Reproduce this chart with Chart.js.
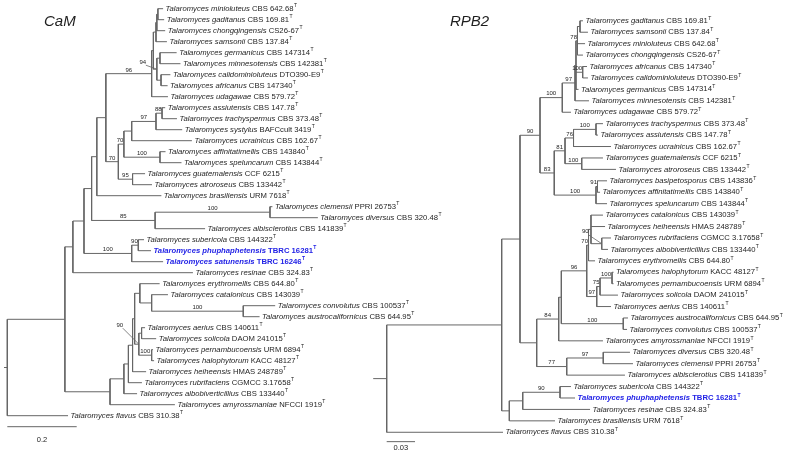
<!DOCTYPE html>
<html>
<head>
<meta charset="utf-8">
<script src="https://cdn.jsdelivr.net/npm/chart.js@4.4.1/dist/chart.umd.min.js"></script>
<style>
  html, body { margin: 0; padding: 0; background: #fff; }
  #trees { display: block; }
</style>
</head>
<body>
<canvas id="trees" width="796" height="454"></canvas>
<script>
// ── CaM : taxons (ordre des feuilles), souches, profondeur des feuilles ──
const camTaxa = [
    'minioluteus', 'gaditanus', 'chongqingensis', 'samsonii', 'germanicus',
    'minnesotensis', 'calidominioluteus', 'africanus', 'udagawae', 'assiutensis',
    'trachyspermus', 'systylus', 'ucrainicus', 'affinitatimellis', 'speluncarum',
    'guatemalensis', 'atroroseus', 'brasiliensis', 'clemensii', 'diversus',
    'albisclerotius', 'subericola', 'phuphaphetensis', 'satunensis', 'resinae',
    'erythromellis', 'catalonicus', 'convolutus', 'austrocalifornicus', 'aerius',
    'solicola', 'pernambucoensis', 'halophytorum', 'heiheensis', 'rubrifaciens',
    'albobiverticillius', 'amyrossmaniae', 'flavus',
];
const camStrains = [
    'CBS 642.68', 'CBS 169.81', 'CS26-67', 'CBS 137.84', 'CBS 147314',
    'CBS 142381', 'DTO390-E9', 'CBS 147340', 'CBS 579.72', 'CBS 147.78',
    'CBS 373.48', 'BAFCcult 3419', 'CBS 162.67', 'CBS 143840', 'CBS 143844',
    'CCF 6215', 'CBS 133442', 'URM 7618', 'PPRI 26753', 'CBS 320.48',
    'CBS 141839', 'CBS 144322', 'TBRC 16281', 'TBRC 16246', 'CBS 324.83',
    'CBS 644.80', 'CBS 143039', 'CBS 100537', 'CBS 644.95', 'CBS 140611',
    'DAOM 241015', 'URM 6894', 'KACC 48127', 'HMAS 248789', 'CGMCC 3.17658',
    'CBS 133440', 'NFCCI 1919', 'CBS 310.38',
];
const camTipDepth = [
    0.449, 0.452, 0.455, 0.460, 0.488, 0.499, 0.470, 0.462, 0.463, 0.455,
    0.489, 0.504, 0.532, 0.456, 0.502, 0.397, 0.417, 0.444, 0.764, 0.895,
    0.570, 0.394, 0.414, 0.449, 0.535, 0.439, 0.463, 0.772, 0.727, 0.397,
    0.429, 0.420, 0.423, 0.400, 0.388, 0.374, 0.483, 0.175,
];
// [id, profondeur, bootstrap, enfants]
const camClades = [
    ['root', 0,     '',    ['a65', 'flavus']],
    ['a65',  0.166, '',    ['a72', 'l110']],
    ['a72',  0.189, '',    ['a84', 'resinae']],
    ['a84',  0.221, '',    ['a91', 's100']],
    ['a91',  0.243, '',    ['a96', 'c85']],
    ['a96',  0.258, '',    ['a106', 'brasiliensis']],
    ['a106', 0.284, '',    ['b151', 'n118']],
    ['b151', 0.416, '96',  ['b154', 'udagawae']],
    ['b154', 0.421, '',    ['m156', 'e157']],
    ['m156', 0.4285, '',   ['m157', 'samsonii']],
    ['m157', 0.431, '',    ['m158', 'chongqingensis']],
    ['m158', 0.434, '',    ['minioluteus', 'gaditanus']],
    ['e157', 0.431, '94',  ['gm160', 'ca161']],
    ['gm160', 0.440, '',   ['germanicus', 'minnesotensis']],
    ['ca161', 0.443, '',   ['calidominioluteus', 'africanus']],
    ['n118', 0.320, '70',  ['n124', 'g95']],
    ['n124', 0.336, '70',  ['n131', 'f100']],
    ['n131', 0.3585, '',   ['h97', 'ucrainicus']],
    ['h97',  0.4285, '97', ['h88', 'systylus']],
    ['h88',  0.446, '88',  ['assiutensis', 'trachyspermus']],
    ['f100', 0.440, '100', ['affinitatimellis', 'speluncarum']],
    ['g95',  0.361, '95',  ['guatemalensis', 'atroroseus']],
    ['c85',  0.426, '85',  ['c100', 'albisclerotius']],
    ['c100', 0.757, '100', ['clemensii', 'diversus']],
    ['s100', 0.3585, '100', ['s90', 'satunensis']],
    ['s90',  0.3775, '90', ['subericola', 'phuphaphetensis']],
    ['l110', 0.296, '',    ['x124', 'amyrossmaniae']],
    ['x124', 0.336, '',    ['y128', 'albobiverticillius']],
    ['y128', 0.349, '',    ['z132', 'rubrifaciens']],
    ['z132', 0.361, '',    ['w134', 'heiheensis']],
    ['w134', 0.367, '',    ['u140', 'v90']],
    ['u140', 0.382, '',    ['erythromellis', 'cc151']],
    ['cc151', 0.416, '',   ['catalonicus', 'cv100']],
    ['cv100', 0.680, '100', ['convolutus', 'austrocalifornicus']],
    ['v90',  0.379, '90',  ['as141', 'ph151']],
    ['as141', 0.387, '',   ['aerius', 'solicola']],
    ['ph151', 0.416, '100', ['pernambucoensis', 'halophytorum']],
];

// ── RPB2 ──────────────────────────────────────────────────────────────
const rpbTaxa = [
    'gaditanus', 'samsonii', 'minioluteus', 'chongqingensis', 'africanus',
    'calidominioluteus', 'germanicus', 'minnesotensis', 'udagawae', 'trachyspermus',
    'assiutensis', 'ucrainicus', 'guatemalensis', 'atroroseus', 'basipetosporus',
    'affinitatimellis', 'speluncarum', 'catalonicus', 'heiheensis', 'rubrifaciens',
    'albobiverticillius', 'erythromellis', 'halophytorum', 'pernambucoensis', 'solicola',
    'aerius', 'austrocalifornicus', 'convolutus', 'amyrossmaniae', 'diversus',
    'clemensii', 'albisclerotius', 'subericola', 'phuphaphetensis', 'resinae',
    'brasiliensis', 'flavus',
];
const rpbStrains = [
    'CBS 169.81', 'CBS 137.84', 'CBS 642.68', 'CS26-67', 'CBS 147340',
    'DTO390-E9', 'CBS 147314', 'CBS 142381', 'CBS 579.72', 'CBS 373.48',
    'CBS 147.78', 'CBS 162.67', 'CCF 6215', 'CBS 133442', 'CBS 143836',
    'CBS 143840', 'CBS 143844', 'CBS 143039', 'HMAS 248789', 'CGMCC 3.17658',
    'CBS 133440', 'CBS 644.80', 'KACC 48127', 'URM 6894', 'DAOM 241015',
    'CBS 140611', 'CBS 644.95', 'CBS 100537', 'NFCCI 1919', 'CBS 320.48',
    'PPRI 26753', 'CBS 141839', 'CBS 144322', 'TBRC 16281', 'CBS 324.83',
    'URM 7618', 'CBS 310.38',
];
const rpbTipDepth = [
    0.2079, 0.2132, 0.2101, 0.2079, 0.2122, 0.2132, 0.2032, 0.2143, 0.1952, 0.2291,
    0.2238, 0.2376, 0.2291, 0.2429, 0.2334, 0.2260, 0.2334, 0.2291, 0.2313, 0.2376,
    0.2344, 0.2207, 0.2403, 0.2403, 0.2450, 0.2376, 0.2556, 0.2546, 0.2291, 0.2577,
    0.2609, 0.2524, 0.1952, 0.1995, 0.2154, 0.1783, 0.1232,
];
const rpbClades = [
    ['root',  0,      '',    ['i501', 'flavus']],
    ['i501',  0.1218, '',    ['n520', 'q509']],
    ['q509',  0.1299, '',    ['r522', 'brasiliensis']],
    ['r522',  0.1441, '',    ['s560', 'resinae']],
    ['s560',  0.1836, '90',  ['subericola', 'phuphaphetensis']],
    ['n520',  0.1412, '',    ['p540', 'o536']],
    ['p540',  0.1624, '90',  ['t562', 'n554']],
    ['t562',  0.1860, '100', ['u575', 'udagawae']],
    ['u575',  0.1995, '97',  ['u576', 'minnesotensis']],
    ['u576',  0.2005, '',    ['m577', 'ca582', 'germanicus']],
    ['m577',  0.2021, '78',  ['gs580', 'minioluteus', 'chongqingensis']],
    ['gs580', 0.2048, '',    ['gaditanus', 'samsonii']],
    ['ca582', 0.2076, '100', ['africanus', 'calidominioluteus']],
    ['n554',  0.1775, '83',  ['n565', 'bas596']],
    ['n565',  0.1889, '81',  ['n574', 'ga582']],
    ['n574',  0.1979, '76',  ['ta596', 'ucrainicus']],
    ['ta596', 0.2217, '100', ['trachyspermus', 'assiutensis']],
    ['ga582', 0.2066, '100', ['guatemalensis', 'atroroseus']],
    ['bas596', 0.2217, '100', ['ba597', 'speluncarum']],
    ['ba597', 0.2233, '91',  ['basipetosporus', 'affinitatimellis']],
    ['o536',  0.1589, '',    ['n84', 'n566']],
    ['n84',   0.1822, '84',  ['n561', 'amyrossmaniae']],
    ['n561',  0.1850, '',    ['n96', 'cv623']],
    ['n96',   0.2119, '96',  ['k588', 'n97']],
    ['k588',  0.2138, '70',  ['k591', 'erythromellis']],
    ['k591',  0.2164, '',    ['catalonicus', 'heiheensis', 'k601']],
    ['k601',  0.2278, '90',  ['rubrifaciens', 'albobiverticillius']],
    ['n97',   0.2225, '97',  ['n75', 'aerius']],
    ['n75',   0.2260, '75',  ['ph612', 'solicola']],
    ['ph612', 0.2387, '100', ['halophytorum', 'pernambucoensis']],
    ['cv623', 0.2506, '100', ['austrocalifornicus', 'convolutus']],
    ['n566',  0.1907, '77',  ['dc603', 'albisclerotius']],
    ['dc603', 0.2294, '97',  ['diversus', 'clemensii']],
];

const newSpecies = ['phuphaphetensis', 'satunensis'];
const camScaleBar = 0.2;
const rpbScaleBar = 0.03;

// ── Mise en page (pixels) ─────────────────────────────────────────────
const W = 796, H = 454;
const FAMILY = '"Liberation Sans", Arial, sans-serif';
const LINE   = '#666666';
const TEXT   = '#1e1e1e';
const BLUE   = '#2323e6';

const camFrame = { rootPx: 7.3,   pxPerUnit: 347, topPx: 8.7,  rowPx: 11.0,  stub: 3.3,  barRow: 1.0,  barGap: 13, title: 'CaM',  titleX: 44 };
const rpbFrame = { rootPx: 386.7, pxPerUnit: 944, topPx: 20.8, rowPx: 11.43, stub: 13.5, barRow: 0.82, barGap: 6,  title: 'RPB2', titleX: 450 };

// étiquettes déportées avec trait de rappel : dx, dy depuis le nœud
const camLeaders = { e157: [-14, -7], v90: [-19, -19] };
const rpbLeaders = { k601: [-16.5, -12] };

/** Construit nœuds + segments (coupés par y:null) à partir des tableaux */
function buildTree(taxa, depths, clades) {
    const nodes = {};
    taxa.forEach((t, i) => { nodes[t] = { depth: depths[i], y: i, tip: true }; });
    clades.forEach(([id, depth, support, kids]) => { nodes[id] = { id, depth, support, kids }; });

    const place = id => {
        const n = nodes[id];
        if (n.tip) return n.y;
        const ys = n.kids.map(place);
        n.y0 = Math.min(...ys);
        n.y1 = Math.max(...ys);
        n.y = (n.y0 + n.y1) / 2;
        return n.y;
    };
    place('root');

    const segs = [];
    const walk = id => {
        const n = nodes[id];
        if (n.tip) return;
        segs.push({ x: n.depth, y: n.y0 }, { x: n.depth, y: n.y1 }, { x: n.depth, y: null });
        n.kids.forEach(k => {
            const c = nodes[k];
            c.parentDepth = n.depth;
            segs.push({ x: n.depth, y: c.y }, { x: c.depth, y: c.y }, { x: c.depth, y: null });
            walk(k);
        });
    };
    walk('root');
    return { nodes, segs };
}

function scaleRange(f) {
    return {
        x: { min: -f.rootPx / f.pxPerUnit, max: (W - f.rootPx) / f.pxPerUnit },
        y: { min: -f.topPx / f.rowPx, max: (H - f.topPx) / f.rowPx },
    };
}

const cam = buildTree(camTaxa, camTipDepth, camClades);
const rpb = buildTree(rpbTaxa, rpbTipDepth, rpbClades);

const camRange = scaleRange(camFrame);
const rpbRange = scaleRange(rpbFrame);

/** Amorce de racine + barre d'échelle */
function extras(tree, taxa, f, bar) {
    const root = tree.nodes.root;
    const barY = taxa.length - 1 + f.barRow;
    return [
        { x: -f.stub / f.pxPerUnit, y: root.y }, { x: 0, y: root.y }, { x: 0, y: null },
        { x: 0, y: barY }, { x: bar, y: barY },
    ];
}

const lineStyle = {
    showLine: true, borderColor: LINE, borderWidth: 1, pointRadius: 0,
    spanGaps: false, fill: false,
};

// ── Textes : feuilles, bootstraps, titres, barres d'échelle ──────────
function drawTexts(ctx, xs, ys, tree, taxa, strains, clades, leaders, f, bar) {
    ctx.save();
    ctx.textBaseline = 'middle';
    taxa.forEach((t, i) => {
        const isNew = newSpecies.includes(t);
        const b = isNew ? 'bold ' : '';
        let x = xs.getPixelForValue(tree.nodes[t].depth) + 2.5;
        const y = ys.getPixelForValue(i);
        ctx.fillStyle = isNew ? BLUE : TEXT;
        ctx.textAlign = 'left';
        ctx.font = `italic ${b}7.7px ${FAMILY}`;
        const name = 'Talaromyces ' + t + ' ';
        ctx.fillText(name, x, y);
        x += ctx.measureText(name).width;
        ctx.font = `${b}7.7px ${FAMILY}`;
        ctx.fillText(strains[i], x, y);
        x += ctx.measureText(strains[i]).width + 0.4;
        ctx.font = `${b}5px ${FAMILY}`;
        ctx.fillText('T', x, y - 2.6);
    });

    ctx.fillStyle = TEXT;
    ctx.font = `6px ${FAMILY}`;
    clades.forEach(([id, , support]) => {
        if (!support) return;
        const n = tree.nodes[id];
        const x1 = xs.getPixelForValue(n.depth);
        const x0 = xs.getPixelForValue(n.parentDepth);
        const y = ys.getPixelForValue(n.y);
        if (leaders[id]) {
            const [dx, dy] = leaders[id];
            ctx.textAlign = 'center';
            ctx.fillText(support, x1 + dx, y + dy);
            ctx.strokeStyle = LINE;
            ctx.lineWidth = 0.8;
            ctx.beginPath();
            ctx.moveTo(x1 + dx + 3, y + dy + 3);
            ctx.lineTo(x1, y);
            ctx.stroke();
        } else if (x1 - x0 >= 9) {
            ctx.textAlign = 'center';
            ctx.fillText(support, (x0 + x1) / 2, y - 3.8);
        } else {
            ctx.textAlign = 'right';
            ctx.fillText(support, x1 - 0.5, y - 3.8);
        }
    });

    ctx.textAlign = 'left';
    ctx.font = `italic 15px ${FAMILY}`;
    ctx.fillText(f.title, f.titleX, 22);

    const barY = ys.getPixelForValue(taxa.length - 1 + f.barRow);
    ctx.textAlign = 'center';
    ctx.font = `7.5px ${FAMILY}`;
    const bx = (xs.getPixelForValue(0) + xs.getPixelForValue(bar)) / 2;
    ctx.fillText(String(bar), bx, barY + f.barGap);
    ctx.restore();
}

const treeText = {
    id: 'treeText',
    afterDatasetsDraw(chart) {
        const s = chart.scales;
        drawTexts(chart.ctx, s.x, s.y, cam, camTaxa, camStrains, camClades, camLeaders, camFrame, camScaleBar);
        drawTexts(chart.ctx, s.x2, s.y2, rpb, rpbTaxa, rpbStrains, rpbClades, rpbLeaders, rpbFrame, rpbScaleBar);
    },
};

new Chart(document.getElementById('trees'), {
    type: 'scatter',
    data: {
        datasets: [
            { data: cam.segs, xAxisID: 'x', yAxisID: 'y', ...lineStyle },
            { data: extras(cam, camTaxa, camFrame, camScaleBar), xAxisID: 'x', yAxisID: 'y', ...lineStyle },
            { data: rpb.segs, xAxisID: 'x2', yAxisID: 'y2', ...lineStyle },
            { data: extras(rpb, rpbTaxa, rpbFrame, rpbScaleBar), xAxisID: 'x2', yAxisID: 'y2', ...lineStyle },
        ],
    },
    options: {
        responsive: false,
        devicePixelRatio: 1,
        animation: false,
        events: [],
        layout: { padding: 0 },
        plugins: { legend: { display: false }, tooltip: { enabled: false } },
        scales: {
            x:  { type: 'linear', display: false, bounds: 'data', ...camRange.x },
            y:  { type: 'linear', display: false, bounds: 'data', reverse: true, ...camRange.y },
            x2: { type: 'linear', display: false, bounds: 'data', ...rpbRange.x },
            y2: { type: 'linear', display: false, bounds: 'data', reverse: true, ...rpbRange.y },
        },
    },
    plugins: [treeText],
});
</script>
</body>
</html>
